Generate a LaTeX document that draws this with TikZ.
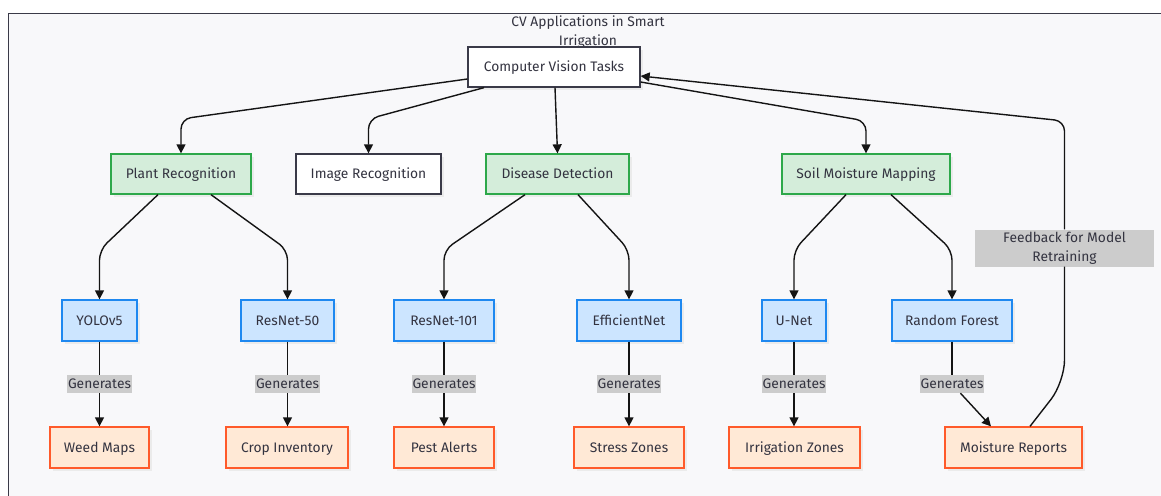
\documentclass[tikz,border=0pt]{standalone}
\usepackage{fontspec}
\setmainfont{Fira Sans}
\usetikzlibrary{arrows.meta,shadows}

\definecolor{ink}{HTML}{333340}
\definecolor{panel}{HTML}{F8F8FA}
\definecolor{panelline}{HTML}{3A3A48}
\definecolor{greenfill}{HTML}{D4EDDA}
\definecolor{greenline}{HTML}{2DA84A}
\definecolor{bluefill}{HTML}{CCE5FF}
\definecolor{blueline}{HTML}{1E88F0}
\definecolor{orangefill}{HTML}{FFE9D6}
\definecolor{orangeline}{HTML}{FF5A2A}
\definecolor{labelgray}{HTML}{CCCCCC}

\tikzset{
  txt/.style={text=ink, font=\fontsize{13.8}{15}\selectfont},
  oneline/.style={txt, text height=9.5pt, text depth=0pt},
  box/.style={draw, line width=1.3pt, minimum height=40pt, inner sep=0pt, oneline,
    drop shadow={shadow xshift=3pt, shadow yshift=-3pt, fill=black!8, opacity=1}},
  plainbox/.style={box, fill=white, draw=panelline},
  taskbox/.style={box, fill=greenfill, draw=greenline},
  modelbox/.style={box, fill=bluefill, draw=blueline, minimum height=41pt},
  outbox/.style={box, fill=orangefill, draw=orangeline, minimum height=41pt},
  link/.style={line width=1.4pt, draw=black!92, rounded corners=10pt},
  arr/.style={link, -{Triangle[length=9pt,width=9pt]}},
  genlbl/.style={sharp corners, fill=labelgray, oneline, inner xsep=1pt, inner ysep=0pt,
    minimum height=18pt},
}

\begin{document}
\begin{tikzpicture}[x=1pt,y=-1pt]
\useasboundingbox (0,0) rectangle (1161,495);
\clip (0,0) rectangle (1161,495);

% outer panel
\draw[fill=panel, draw=panelline, line width=1.5pt] (8.5,13.5) rectangle (1190,520);

% title
\node[txt, align=center, font=\fontsize{13.8}{19}\selectfont] (title) at (588,32.5)
  {CV Applications in Smart\\Irrigation};

% root
\node[plainbox, minimum width=172pt] (cvt) at (554,67) {Computer Vision Tasks};

% tasks
\node[taskbox, minimum width=140pt] (plant) at (181,174) {Plant Recognition};
\node[plainbox, minimum width=145pt] (img) at (368.5,174) {Image Recognition};
\node[taskbox, minimum width=143pt] (dis) at (557.5,174) {Disease Detection};
\node[taskbox, minimum width=168pt] (soil) at (866,174) {Soil Moisture Mapping};

% models
\node[modelbox, minimum width=75pt]  (yolo) at (99.5,320.5) {YOLOv5};
\node[modelbox, minimum width=93pt]  (r50)  at (287.5,320.5) {ResNet-50};
\node[modelbox, minimum width=100pt] (r101) at (444,320.5) {ResNet-101};
\node[modelbox, minimum width=104pt] (eff)  at (629,320.5) {EfficientNet};
\node[modelbox, minimum width=64pt]  (unet) at (794,320.5) {U-Net};
\node[modelbox, minimum width=120pt] (rf)   at (952,320.5) {Random Forest};

% outputs
\node[outbox, minimum width=99pt]  (weed)   at (99.5,447.5) {Weed Maps};
\node[outbox, minimum width=122pt] (crop)   at (287,447.5) {Crop Inventory};
\node[outbox, minimum width=100pt] (pest)   at (444,447.5) {Pest Alerts};
\node[outbox, minimum width=110pt] (stress) at (629,447.5) {Stress Zones};
\node[outbox, minimum width=131pt] (irr)    at (794.5,447.5) {Irrigation Zones};
\node[outbox, minimum width=137pt] (moist)  at (1013.5,447.5) {Moisture Reports};

% feedback label
\node[fill=labelgray, txt, align=center, minimum width=179pt, minimum height=37pt,
  inner sep=0pt, font=\fontsize{13.8}{19}\selectfont] (fb) at (1064.5,248)
  {Feedback for Model\\Retraining};

% root to tasks
\draw[arr] ([yshift=-12pt]cvt.west) -- (181,119) -- (plant.north);
\draw[arr] ([xshift=-70pt]cvt.south) -- (368.5,119) -- (img.north);
\draw[arr] ([xshift=1pt]cvt.south) -- (dis.north);
\draw[arr] ([yshift=-15pt]cvt.east) -- (866,121) -- (soil.north);

% tasks to models
\draw[arr] ([xshift=-23pt]plant.south) -- (99.5,250) -- (yolo.north);
\draw[arr] ([xshift=30pt]plant.south) -- (287.5,250) -- (r50.north);
\draw[arr] ([xshift=-32.5pt]dis.south) -- (444,250) -- (r101.north);
\draw[arr] ([xshift=20.5pt]dis.south) -- (629,250) -- (eff.north);
\draw[arr] ([xshift=-20pt]soil.south) -- (794,250) -- (unet.north);
\draw[arr] ([xshift=25pt]soil.south) -- (952,250) -- (rf.north);

% models to outputs
\draw[arr] (yolo) -- node[genlbl] (g1) {Generates} (weed);
\draw[arr] (r50.south) -- node[genlbl] (g2) {Generates} (r50.south |- crop.north);
\draw[arr] (r101) -- node[genlbl] (g3) {Generates} (pest);
\draw[arr] (eff) -- node[genlbl] (g4) {Generates} (stress);
\draw[arr] (unet.south) -- node[genlbl] (g5) {Generates} (unet.south |- irr.north);
\node[genlbl] (g6) at (952,384) {Generates};
\draw[link] (rf) -- (g6);
\draw[arr] (g6) -- ([xshift=-22.5pt]moist.north);

% feedback loop
\draw[link, rounded corners=22pt] ([xshift=16.5pt]moist.north) -- (1064.5,382) -- (fb.south);
\draw[arr] (fb.north) -- (1064.5,121) -- ([yshift=-9pt]cvt.east);
\end{tikzpicture}
\end{document}
